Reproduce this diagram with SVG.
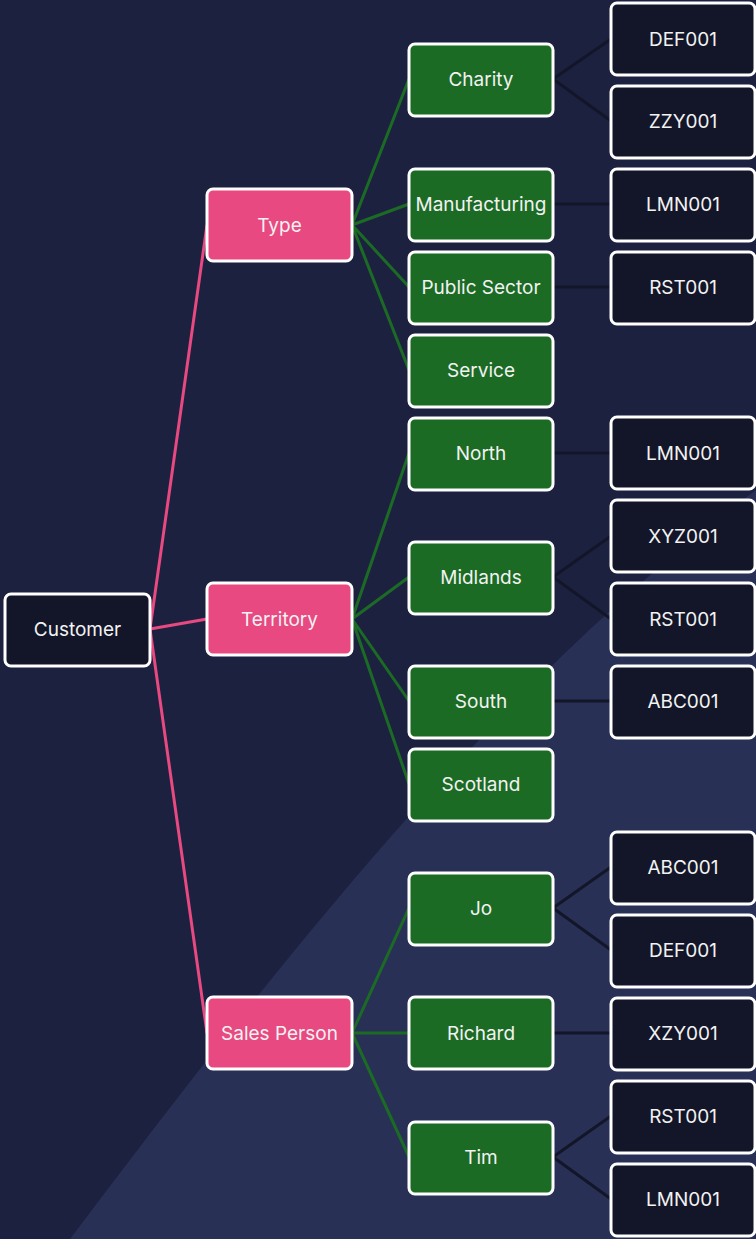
<svg xmlns="http://www.w3.org/2000/svg" width="756" height="1239" viewBox="0 0 756 1239">
<style>
.n rect{stroke:#ffffff;stroke-width:3}
.root rect,.leaf rect{fill:#121628}
.cat rect{fill:#e94981}
.mid rect{fill:#1b6b24}
text{font-family:Inter,"Noto Sans","Liberation Sans",sans-serif;font-size:19px;fill:#f2f2f2;text-anchor:middle}
.pk{stroke:#e94981;stroke-width:3;fill:none}
.gr{stroke:#1b6b24;stroke-width:3;fill:none}
.dk{stroke:#121628;stroke-width:3;fill:none}
</style>
<rect width="756" height="1239" fill="#1d2140"/>
<path d="M70 1239 C280 960 500 680 756 490 L756 1239 Z" fill="#283056"/>
<g id="connectors">
<path class="pk" d="M150 629L207 225M150 629L207 619M150 629L207 1033"/>
<path class="gr" d="M352 225L409 79M352 225L409 204M352 225L409 287M352 225L409 370"/>
<path class="gr" d="M352 619L409 453M352 619L409 577M352 619L409 701M352 619L409 784"/>
<path class="gr" d="M352 1033L409 908M352 1033L409 1033M352 1033L409 1157"/>
<path class="dk" d="M553 79L611 39M553 79L611 121M553 204L611 204M553 287L611 287"/>
<path class="dk" d="M553 453L611 453M553 577L611 536M553 577L611 619M553 701L611 701"/>
<path class="dk" d="M553 908L611 867M553 908L611 950M553 1033L611 1033M553 1157L611 1116M553 1157L611 1199"/>
</g>
<g id="customer" class="n root"><rect x="5" y="594" width="145" height="72" rx="6"/><text x="77.5" y="636">Customer</text></g>
<g id="type" class="n cat"><rect x="207" y="189" width="145" height="72" rx="6"/><text x="279.5" y="232">Type</text></g>
<g id="territory" class="n cat"><rect x="207" y="583" width="145" height="72" rx="6"/><text x="279.5" y="626">Territory</text></g>
<g id="salesperson" class="n cat"><rect x="207" y="997" width="145" height="72" rx="6"/><text x="279.5" y="1040">Sales Person</text></g>
<g id="charity" class="n mid"><rect x="409" y="44" width="144" height="72" rx="6"/><text x="481" y="86">Charity</text></g>
<g id="manufacturing" class="n mid"><rect x="409" y="169" width="144" height="72" rx="6"/><text x="481" y="211">Manufacturing</text></g>
<g id="publicsector" class="n mid"><rect x="409" y="252" width="144" height="72" rx="6"/><text x="481" y="294">Public Sector</text></g>
<g id="service" class="n mid"><rect x="409" y="335" width="144" height="72" rx="6"/><text x="481" y="377">Service</text></g>
<g id="north" class="n mid"><rect x="409" y="418" width="144" height="72" rx="6"/><text x="481" y="460">North</text></g>
<g id="midlands" class="n mid"><rect x="409" y="542" width="144" height="72" rx="6"/><text x="481" y="584">Midlands</text></g>
<g id="south" class="n mid"><rect x="409" y="666" width="144" height="72" rx="6"/><text x="481" y="708">South</text></g>
<g id="scotland" class="n mid"><rect x="409" y="749" width="144" height="72" rx="6"/><text x="481" y="791">Scotland</text></g>
<g id="jo" class="n mid"><rect x="409" y="873" width="144" height="72" rx="6"/><text x="481" y="915">Jo</text></g>
<g id="richard" class="n mid"><rect x="409" y="997" width="144" height="72" rx="6"/><text x="481" y="1040">Richard</text></g>
<g id="tim" class="n mid"><rect x="409" y="1122" width="144" height="72" rx="6"/><text x="481" y="1164">Tim</text></g>
<g id="def001a" class="n leaf"><rect x="611" y="3" width="144" height="72" rx="6"/><text x="683" y="46">DEF001</text></g>
<g id="zzy001" class="n leaf"><rect x="611" y="86" width="144" height="72" rx="6"/><text x="683" y="128">ZZY001</text></g>
<g id="lmn001a" class="n leaf"><rect x="611" y="169" width="144" height="72" rx="6"/><text x="683" y="211">LMN001</text></g>
<g id="rst001a" class="n leaf"><rect x="611" y="252" width="144" height="72" rx="6"/><text x="683" y="294">RST001</text></g>
<g id="lmn001b" class="n leaf"><rect x="611" y="417" width="144" height="72" rx="6"/><text x="683" y="460">LMN001</text></g>
<g id="xyz001" class="n leaf"><rect x="611" y="500" width="144" height="72" rx="6"/><text x="683" y="543">XYZ001</text></g>
<g id="rst001b" class="n leaf"><rect x="611" y="583" width="144" height="72" rx="6"/><text x="683" y="626">RST001</text></g>
<g id="abc001a" class="n leaf"><rect x="611" y="666" width="144" height="72" rx="6"/><text x="683" y="708">ABC001</text></g>
<g id="abc001b" class="n leaf"><rect x="611" y="832" width="144" height="72" rx="6"/><text x="683" y="874">ABC001</text></g>
<g id="def001b" class="n leaf"><rect x="611" y="915" width="144" height="72" rx="6"/><text x="683" y="957">DEF001</text></g>
<g id="xzy001" class="n leaf"><rect x="611" y="998" width="144" height="72" rx="6"/><text x="683" y="1040">XZY001</text></g>
<g id="rst001c" class="n leaf"><rect x="611" y="1081" width="144" height="72" rx="6"/><text x="683" y="1123">RST001</text></g>
<g id="lmn001c" class="n leaf"><rect x="611" y="1164" width="144" height="72" rx="6"/><text x="683" y="1206">LMN001</text></g>
</svg>
